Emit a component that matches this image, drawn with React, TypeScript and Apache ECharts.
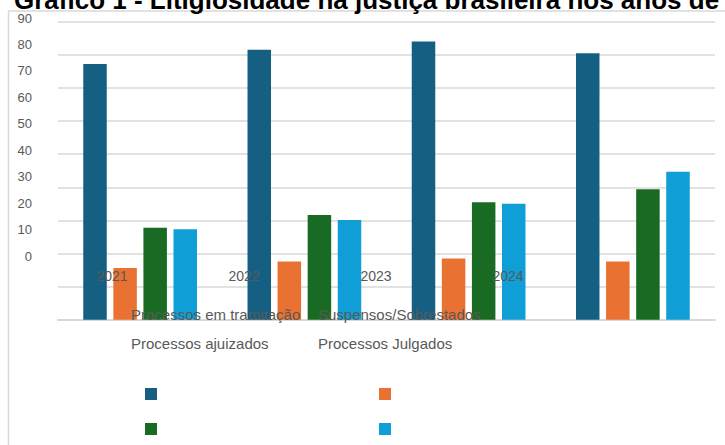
import React, { useEffect, useRef } from "react";
import * as echarts from "echarts";

const years = ["2021", "2022", "2023", "2024"];
const seriesNames = [
  "Processos em tramitação",
  "Suspensos/Sobrestados",
  "Processos ajuizados",
  "Processos Julgados",
];
const tramitacao = [77.2, 81.5, 84.0, 80.5];
const suspensos = [15.6, 17.6, 18.5, 17.6];
const ajuizados = [27.8, 31.6, 35.5, 39.4];
const julgados = [27.3, 30.1, 35.0, 44.7];
const colors = ["#156082", "#E97132", "#196B24", "#0F9ED5"];
const titleText = "Gráfico 1 - Litigiosidade na justiça brasileira nos anos de 2021 a 2024";

const FONT = "'Liberation Sans', Arial, sans-serif";
const GRAY = "#595959";

export default function App() {
  const ref = useRef<HTMLDivElement>(null);
  useEffect(() => {
    if (!ref.current) return;
    const chart = echarts.init(ref.current, undefined, { renderer: "svg" });
    const values = [tramitacao, suspensos, ajuizados, julgados];

    const markerPos = [
      { left: 145, top: 388 },
      { left: 379, top: 388 },
      { left: 145, top: 423 },
      { left: 379, top: 423 },
    ];
    const textPos = [
      { left: 126, top: 307 },
      { left: 313, top: 307 },
      { left: 126, top: 336 },
      { left: 313, top: 336 },
    ];
    const legends: any[] = [];
    seriesNames.forEach((n, i) => {
      legends.push({
        data: [n],
        left: markerPos[i].left,
        top: markerPos[i].top,
        padding: 0,
        itemWidth: 12,
        itemHeight: 12,
        icon: "rect",
        selectedMode: false,
        formatter: () => "",
        textStyle: { fontSize: 1 },
        z: 20,
      });
      legends.push({
        data: [n],
        left: textPos[i].left,
        top: textPos[i].top,
        padding: 0,
        itemWidth: 0,
        itemHeight: 0,
        icon: "rect",
        selectedMode: false,
        itemStyle: { opacity: 0 },
        textStyle: { fontSize: 15, color: GRAY, fontFamily: FONT },
        z: 20,
      });
    });

    chart.setOption({
      animation: false,
      backgroundColor: "#ffffff",
      title: {
        text: titleText,
        left: 14,
        top: -13,
        padding: 0,
        textStyle: { fontSize: 26, fontWeight: "bold", color: "#000000", fontFamily: FONT },
      },
      graphic: [
        {
          type: "rect",
          shape: { x: 8.5, y: 11, width: 800, height: 500 },
          style: { fill: "none", stroke: "#d9d9d9", lineWidth: 1.5 },
          silent: true,
          z: -1,
        },
      ],
      legend: legends,
      grid: [
        { left: 58, right: 10, top: 21.7, height: 298, containLabel: false },
        { left: 58, right: 10, top: 18, height: 238, containLabel: false },
        { left: 46, width: 528, top: 200, height: 60, containLabel: false },
      ],
      xAxis: [
        {
          type: "category",
          data: years,
          gridIndex: 0,
          axisLabel: { show: false },
          axisTick: { show: false },
          axisLine: { show: true, lineStyle: { color: "#d9d9d9", width: 2 } },
        },
        { type: "category", data: years, gridIndex: 1, show: false },
        {
          type: "category",
          data: years,
          gridIndex: 2,
          z: 20,
          axisLine: { show: false },
          axisTick: { show: false },
          axisLabel: { color: GRAY, fontSize: 14, fontFamily: FONT, margin: 9 },
        },
      ],
      yAxis: [
        {
          type: "value",
          gridIndex: 0,
          min: 0,
          max: 90,
          interval: 10,
          axisLabel: { show: false },
          axisLine: { show: false },
          axisTick: { show: false },
          splitLine: { show: true, lineStyle: { color: "#d9d9d9", width: 1.5 } },
        },
        {
          type: "value",
          gridIndex: 1,
          min: 0,
          max: 90,
          interval: 10,
          axisLine: { show: false },
          axisTick: { show: false },
          splitLine: { show: false },
          axisLabel: { color: GRAY, fontSize: 13, fontFamily: FONT, margin: 26 },
        },
        { type: "value", gridIndex: 2, min: 0, max: 1, show: false },
      ],
      series: seriesNames.map((n, i) => ({
        name: n,
        type: "bar",
        xAxisIndex: 0,
        yAxisIndex: 0,
        data: values[i],
        barWidth: 23.5,
        barGap: "28%",
        z: 2,
        itemStyle: { color: colors[i] },
      })),
    });
    return () => chart.dispose();
  }, []);
  return (
    <div
      ref={ref}
      style={{ position: "fixed", left: 0, top: 0, width: 725, height: 445 }}
    />
  );
}
